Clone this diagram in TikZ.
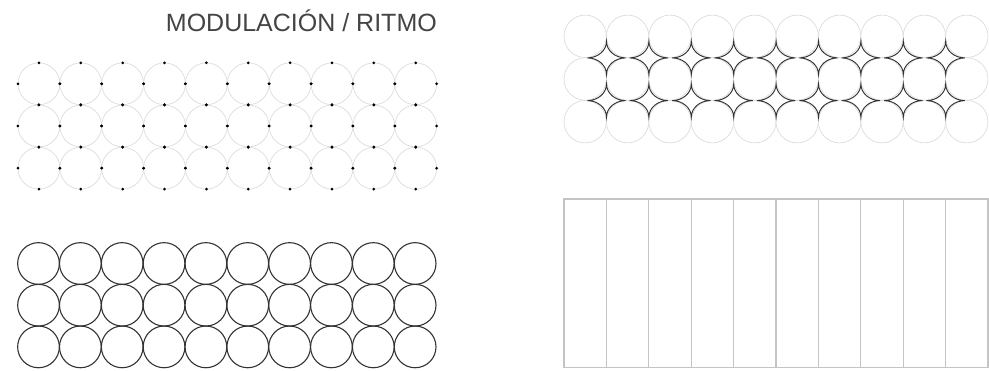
\documentclass[tikz,border=0pt]{standalone}
\usepackage{fontspec}
\setmainfont{Liberation Sans}
\definecolor{titlegray}{HTML}{444444}
\definecolor{faint}{HTML}{DCDCDC}
\definecolor{darkline}{HTML}{333333}
\definecolor{barline}{HTML}{C4C4C4}
\begin{document}
\begin{tikzpicture}[x=1pt,y=-1pt,
  faintcircle/.style={draw=faint,line width=0.7pt},
  darkcircle/.style={draw=darkline,line width=1.1pt},
  dotmark/.style={fill=black},
  astroid/.style={draw=darkline,line width=0.95pt},
  barbox/.style={draw=barline,line width=1.2pt}]
\useasboundingbox (0,0) rectangle (989,371);
\node[anchor=base east,font=\fontsize{25}{30}\selectfont,text=titlegray,inner sep=0pt] (title) at (437,32) {MODULACIÓN / RITMO};
% top-left: faint circles with cardinal dots
\def\rA{20.93}
\foreach \i in {0,...,9}{
  \foreach \j in {0,1,2}{
    \pgfmathsetmacro{\cx}{38.9+41.87*\i}
    \pgfmathsetmacro{\cy}{83.8+42.2*\j}
    \draw[faintcircle] (\cx,\cy) circle[radius=\rA];
    \fill[dotmark] (\cx+\rA,\cy) circle[radius=1.5];
    \fill[dotmark] (\cx-\rA,\cy) circle[radius=1.5];
    \fill[dotmark] (\cx,\cy+\rA) circle[radius=1.5];
    \fill[dotmark] (\cx,\cy-\rA) circle[radius=1.5];
  }
}
% bottom-left: dark circles
\foreach \i in {0,...,9}{
  \foreach \j in {0,1,2}{
    \pgfmathsetmacro{\cx}{38.5+41.85*\i}
    \pgfmathsetmacro{\cy}{263.5+41.7*\j}
    \draw[darkcircle] (\cx,\cy) circle[radius=20.85];
  }
}
% top-right: faint circles and four-pointed stars
\def\rB{21.2}
\foreach \i in {0,...,9}{
  \foreach \j in {0,1,2}{
    \pgfmathsetmacro{\cx}{585.2+42.4*\i}
    \pgfmathsetmacro{\cy}{36.3+42.7*\j}
    \draw[faintcircle] (\cx,\cy) circle[radius=\rB];
  }
}
\def\sa{19.2}
\def\sb{16.5}
\foreach \k in {0,...,8}{
  \foreach \j in {0,1}{
    \pgfmathsetmacro{\xo}{606.5+42.4*\k}
    \pgfmathsetmacro{\yo}{57.9+42.7*\j}
    \draw[astroid] (\xo,\yo-\sb)
      arc[start angle=180,end angle=270,x radius=\sa pt,y radius=\sb pt]
      arc[start angle=90,end angle=180,x radius=\sa pt,y radius=\sb pt]
      arc[start angle=0,end angle=90,x radius=\sa pt,y radius=\sb pt]
      arc[start angle=270,end angle=360,x radius=\sa pt,y radius=\sb pt] -- cycle;
  }
}
% bottom-right: vertical bars
\draw[barbox] (564,199) rectangle (988,367.7);
\foreach \k in {1,...,9}{
  \pgfmathsetmacro{\bx}{564+42.4*\k}
  \draw[barbox] (\bx,199) -- (\bx,367.7);
}
\end{tikzpicture}
\end{document}
